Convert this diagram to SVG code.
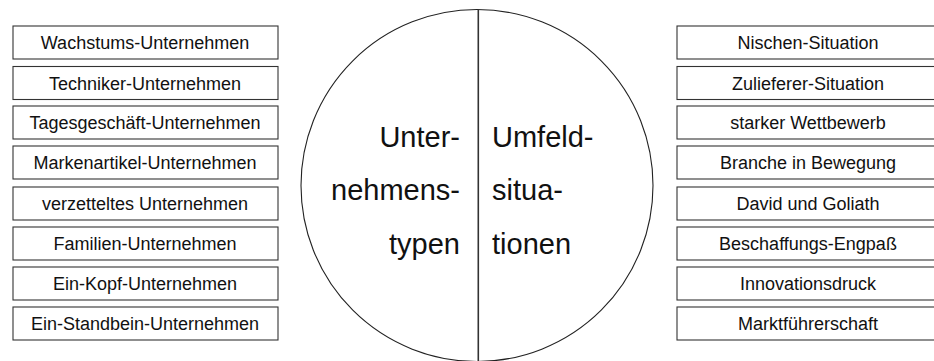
<svg xmlns="http://www.w3.org/2000/svg" width="934" height="361" viewBox="0 0 934 361">
<style>
.box{fill:#fff;stroke:#333;stroke-width:1.1}
.bt{font-family:"Liberation Sans",Arial,sans-serif;font-size:18px;fill:#111;text-anchor:middle}
.ct{font-family:"Liberation Sans",Arial,sans-serif;font-size:29px;fill:#111}
.circ{fill:#fff;stroke:#222;stroke-width:1.1}
.div{stroke:#333;stroke-width:1.6}
</style>
<rect width="934" height="361" fill="#fff"/>
<g id="center">
<circle class="circ" cx="477" cy="185.5" r="176"/>
<line class="div" x1="478.3" y1="9.5" x2="478.3" y2="361"/>
<text class="ct" x="460" y="147" text-anchor="end">Unter-</text>
<text class="ct" x="460" y="200" text-anchor="end">nehmens-</text>
<text class="ct" x="460" y="254" text-anchor="end">typen</text>
<text class="ct" x="492" y="147">Umfeld-</text>
<text class="ct" x="492" y="200">situa-</text>
<text class="ct" x="492" y="254">tionen</text>
</g>
<g id="left-types">
<g id="l1"><rect class="box" x="13" y="26" width="265" height="33"/><text class="bt" x="145" y="49">Wachstums-Unternehmen</text></g>
<g id="l2"><rect class="box" x="13" y="66.5" width="265" height="33"/><text class="bt" x="145" y="89.5">Techniker-Unternehmen</text></g>
<g id="l3"><rect class="box" x="13" y="106" width="265" height="33"/><text class="bt" x="145" y="129">Tagesgeschäft-Unternehmen</text></g>
<g id="l4"><rect class="box" x="13" y="146" width="265" height="33"/><text class="bt" x="145" y="169">Markenartikel-Unternehmen</text></g>
<g id="l5"><rect class="box" x="13" y="187" width="265" height="33"/><text class="bt" x="145" y="210">verzetteltes Unternehmen</text></g>
<g id="l6"><rect class="box" x="13" y="227" width="265" height="33"/><text class="bt" x="145" y="250">Familien-Unternehmen</text></g>
<g id="l7"><rect class="box" x="13" y="267" width="265" height="33"/><text class="bt" x="145" y="290">Ein-Kopf-Unternehmen</text></g>
<g id="l8"><rect class="box" x="13" y="307" width="265" height="33"/><text class="bt" x="145" y="330">Ein-Standbein-Unternehmen</text></g>
</g>
<g id="right-situations">
<g id="r1"><rect class="box" x="677" y="26" width="262" height="33"/><text class="bt" x="808" y="49">Nischen-Situation</text></g>
<g id="r2"><rect class="box" x="677" y="66.5" width="262" height="33"/><text class="bt" x="808" y="89.5">Zulieferer-Situation</text></g>
<g id="r3"><rect class="box" x="677" y="106" width="262" height="33"/><text class="bt" x="808" y="129">starker Wettbewerb</text></g>
<g id="r4"><rect class="box" x="677" y="146" width="262" height="33"/><text class="bt" x="808" y="169">Branche in Bewegung</text></g>
<g id="r5"><rect class="box" x="677" y="187" width="262" height="33"/><text class="bt" x="808" y="210">David und Goliath</text></g>
<g id="r6"><rect class="box" x="677" y="227" width="262" height="33"/><text class="bt" x="808" y="250">Beschaffungs-Engpaß</text></g>
<g id="r7"><rect class="box" x="677" y="267" width="262" height="33"/><text class="bt" x="808" y="290">Innovationsdruck</text></g>
<g id="r8"><rect class="box" x="677" y="307" width="262" height="33"/><text class="bt" x="808" y="330">Marktführerschaft</text></g>
</g>
<g id="connectors"/>
</svg>
